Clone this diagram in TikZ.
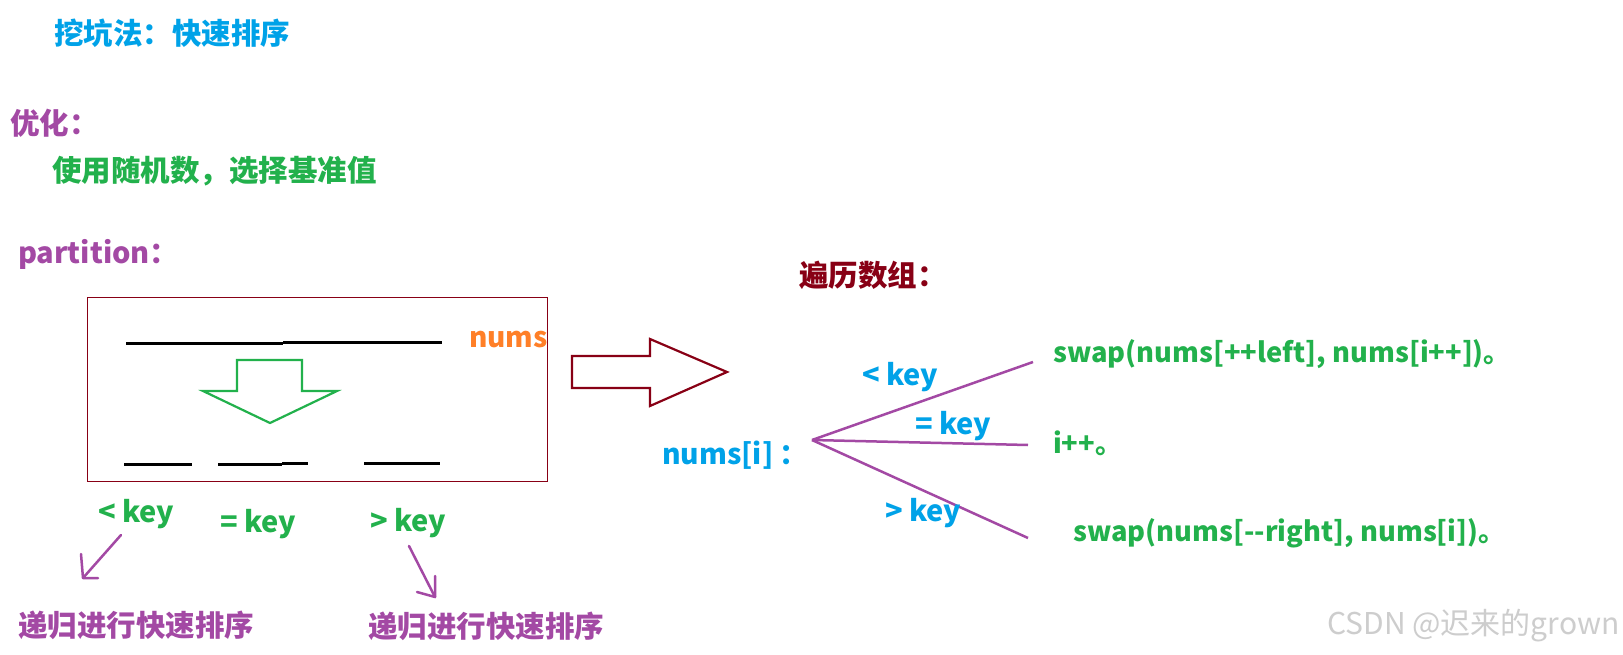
\documentclass[tikz,border=0pt]{standalone}
\usepackage{fontspec}
\setmainfont{Noto Sans CJK SC}
\definecolor{cblue}{HTML}{00A2E8}
\definecolor{cpurple}{HTML}{A349A4}
\definecolor{cgreen}{HTML}{22B14C}
\definecolor{cdred}{HTML}{880015}
\definecolor{corange}{HTML}{FF7F27}
\definecolor{cgray}{HTML}{CDCDCD}
\tikzset{
  txt/.style={anchor=west, inner sep=0pt, font=\fontsize{29}{34}\selectfont\bfseries},
  cjk/.style={txt, font=\fontsize{29.5}{35}\selectfont\bfseries},
  code/.style={txt, font=\fontsize{27.3}{32}\selectfont\bfseries},
  seg/.style={line width=3pt, black},
  fan/.style={line width=2.5pt, cpurple},
  hand/.style={line width=2.5pt, cpurple, line join=round, line cap=round},
}
\begin{document}
\begin{tikzpicture}[x=1pt,y=-1pt]
\useasboundingbox[fill=white] (0,0) rectangle (1623,655);

% headings
\node[cjk, text=cblue] (title) at (54,33) {挖坑法：快速排序};
\node[cjk, text=cpurple] (opt) at (10,123) {优化：};
\node[cjk, text=cgreen] (rand) at (52,171) {使用随机数，选择基准值};
\node[txt, text=cpurple] (part) at (18,254) {partition：};

% partition box
\draw[cdred, line width=1pt] (87,297) rectangle (547,481);
\draw[seg] (126,343) -- (283,343);
\draw[seg] (283,342) -- (442,342);
\node[txt, text=corange, font=\fontsize{28}{33}\selectfont\bfseries] (nums) at (469,340) {nums};
\draw[cgreen, line width=2.2pt, line join=miter]
  (237,360) -- (302,360) -- (302,391) -- (337,391) -- (270,423) -- (203,391) -- (237,391) -- cycle;
\draw[seg] (124,464) -- (192,464);
\draw[seg] (218,464) -- (282,464);
\draw[seg] (282,463) -- (308,463);
\draw[seg] (364,463) -- (440,463);

% green key labels
\node[txt, text=cgreen] (glt) at (98,514) {< key};
\node[txt, text=cgreen] (geq) at (220,524) {= key};
\node[txt, text=cgreen] (ggt) at (370,523) {> key};

% recursion labels
\node[cjk, text=cpurple] (rec1) at (18,625) {递归进行快速排序};
\node[cjk, text=cpurple] (rec2) at (368,626) {递归进行快速排序};

% hand-drawn arrows
\coordinate (a1s) at (121,535);
\coordinate (a1t) at (83,578);
\draw[hand] (a1s) -- (a1t);
\draw[hand] (81,554) -- (a1t) -- (98,578);
\coordinate (a2s) at (409,546);
\coordinate (a2t) at (435,597);
\draw[hand] (a2s) -- (a2t);
\draw[hand] (435,576) -- (a2t) -- (417,592);

% big red block arrow
\draw[cdred, line width=2.2pt, line join=miter]
  (572,356) -- (650,356) -- (650,339) -- (727,372) -- (650,406) -- (650,388) -- (572,388) -- cycle;

% traversal
\node[cjk, text=cdred] (trav) at (799,275) {遍历数组：};
\node[txt, text=cblue, font=\fontsize{28.3}{33}\selectfont\bfseries] (numsi) at (662,455) {nums[i] ：};
\coordinate (o) at (812,440);
\coordinate (e1) at (1033,362);
\coordinate (e2) at (1028,445);
\coordinate (e3) at (1028,538);
\draw[fan] (o) -- (e1);
\draw[fan] (o) -- (e2);
\draw[fan] (o) -- (e3);
\node[txt, text=cblue] (lt) at (862,377) {< key};
\node[txt, text=cblue] (eq) at (915,426) {= key};
\node[txt, text=cblue] (gt) at (885,513) {> key};

\node[code, text=cgreen] (s1) at (1053,354) {swap(nums[++left], nums[i++])。};
\node[code, text=cgreen] (s2) at (1053,443) {i++。};
\node[code, text=cgreen] (s3) at (1073,533) {swap(nums[-{}-right], nums[i])。};

% watermark
\node[anchor=west, inner sep=0pt, text=cgray, font=\fontsize{30}{34}\selectfont] (wm) at (1327,626) {CSDN @迟来的grown};
\end{tikzpicture}
\end{document}
